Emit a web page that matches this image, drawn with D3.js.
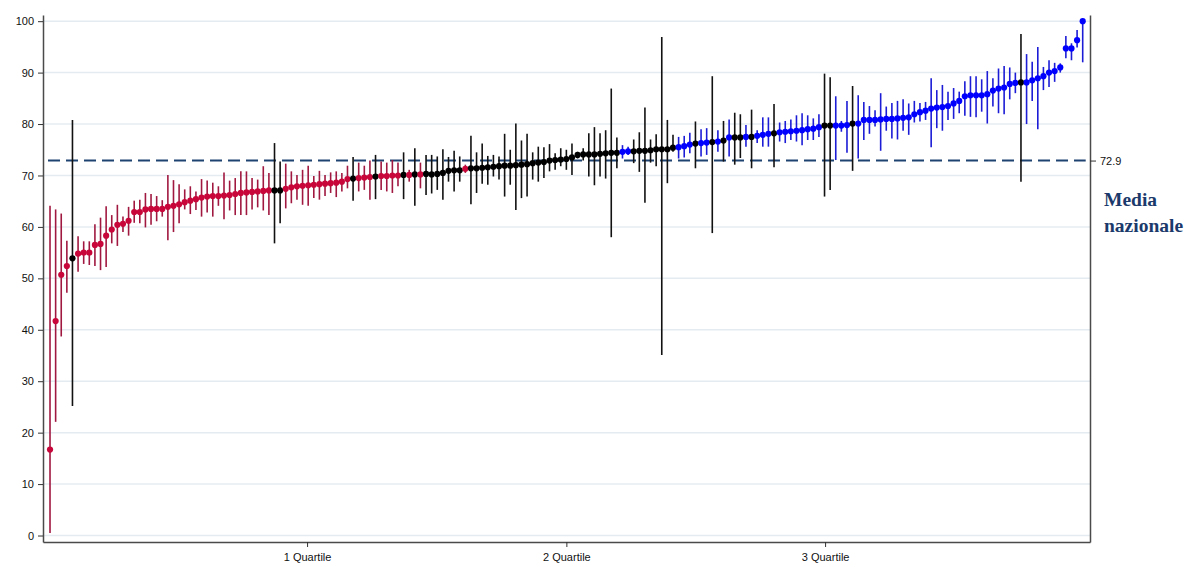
<!DOCTYPE html>
<html><head><meta charset="utf-8">
<script src="https://cdn.jsdelivr.net/npm/d3@7"></script>
<style>
html,body{margin:0;padding:0;background:#fff;}
svg{display:block;font-family:"Liberation Sans",Arial,sans-serif;}
</style></head>
<body><svg id="chart" width="1185" height="567"></svg>
<script>
// Estimate per unit (sorted)
const values = [16.7,41.7,50.7,52.4,53.9,54.8,55.0,55.0,56.5,56.7,58.3,59.5,60.4,60.6,61.2,62.9,62.9,63.4,63.5,63.5,
63.5,63.9,64.1,64.4,64.8,65.1,65.4,65.7,65.9,66.0,66.0,66.1,66.2,66.4,66.6,66.7,66.8,66.9,67.0,67.1,
67.1,67.1,67.4,67.7,67.9,68.0,68.1,68.2,68.3,68.4,68.5,68.6,68.8,69.3,69.4,69.5,69.6,69.7,69.8,69.9,
69.9,70.0,70.0,70.1,70.1,70.2,70.2,70.3,70.2,70.3,70.5,70.9,71.0,71.0,71.3,71.4,71.4,71.5,71.6,71.7,
71.8,71.9,71.9,72.0,72.1,72.2,72.4,72.5,72.6,72.9,73.0,73.1,73.2,73.5,74.0,74.1,74.1,74.1,74.2,74.3,
74.4,74.4,74.6,74.7,74.7,74.8,74.8,74.9,75.1,75.1,75.1,75.4,75.5,75.7,76.0,76.2,76.3,76.4,76.5,76.6,
76.8,77.4,77.4,77.4,77.5,77.5,77.7,77.9,78.1,78.2,78.4,78.5,78.6,78.7,78.8,79.0,79.1,79.4,79.7,79.7,
79.7,79.7,79.8,80.1,80.1,80.8,80.8,80.8,80.9,81.0,81.0,81.1,81.2,81.3,81.9,82.3,82.6,83.0,83.2,83.3,
83.5,84.0,84.5,85.4,85.6,85.6,85.6,85.8,86.5,86.9,87.1,87.8,88.0,88.1,88.1,88.5,88.9,89.3,90.0,90.3,
91.0,94.7,94.7,96.3,100.0];
const lower = [0.5,22.1,38.7,47.2,25.2,51.3,52.8,52.6,52.4,51.6,52.2,56.8,56.3,59.0,58.3,60.8,60.7,59.9,60.4,61.1,
62.0,57.4,59.0,60.7,63.4,62.5,63.3,62.0,62.8,62.0,64.1,61.5,63.2,62.3,62.3,62.3,63.4,63.8,63.2,62.3,
56.8,60.7,63.6,64.6,65.3,64.3,64.1,65.6,65.3,66.0,66.6,65.8,66.9,67.5,65.1,66.9,67.2,65.3,65.4,67.2,
66.9,66.6,67.9,65.4,68.8,64.1,67.5,66.2,66.5,67.2,65.3,68.8,66.9,68.8,70.5,64.4,66.6,68.4,68.2,69.8,
69.2,65.9,68.2,63.3,65.6,65.9,69.2,68.8,69.5,70.8,71.1,71.8,71.1,70.1,73.3,72.9,69.8,68.1,69.8,69.4,
58.0,71.4,73.3,74.0,72.4,70.7,64.7,72.5,71.8,35.1,68.5,74.6,73.3,73.5,74.3,71.4,73.7,74.0,58.8,74.6,
72.7,73.7,72.1,73.4,75.6,71.4,76.3,75.6,75.6,71.6,76.6,76.3,76.9,76.6,75.9,76.9,76.9,77.5,65.9,67.2,
73.0,78.5,74.4,70.9,73.3,76.9,78.1,79.5,74.8,78.7,77.2,77.0,78.7,77.9,80.3,80.5,80.8,75.5,79.2,78.7,
80.8,81.0,82.1,81.6,81.4,81.3,82.4,80.1,83.4,82.1,81.9,84.8,86.0,68.8,80.0,84.5,79.0,86.6,87.2,88.2,
90.0,92.8,92.4,94.9,92.0];
const upper = [64.1,63.4,62.6,57.3,80.8,58.2,57.2,57.2,60.5,61.8,64.0,62.3,64.3,62.0,63.9,65.1,65.3,66.6,66.4,66.0,
65.2,70.1,69.1,68.3,67.3,67.9,66.9,69.3,69.0,68.6,67.9,70.6,69.0,69.5,70.8,70.8,69.5,69.2,71.8,70.5,
76.3,72.7,72.3,70.8,70.1,71.1,71.9,69.9,70.9,70.1,70.6,70.8,70.5,71.9,73.6,72.5,71.9,72.9,74.0,72.7,
72.5,73.0,72.5,74.5,71.1,75.3,72.5,74.0,74.0,73.7,75.1,73.6,74.8,73.7,72.1,77.7,74.5,76.2,73.8,74.0,
73.7,78.1,75.0,80.1,76.8,78.1,74.5,75.6,75.5,76.1,74.3,75.3,75.0,76.2,74.6,75.3,78.2,79.4,78.2,78.8,
86.9,77.4,75.9,75.6,77.0,78.4,83.2,77.0,78.0,96.9,80.8,77.9,77.5,77.7,78.3,80.5,79.0,79.2,89.3,78.8,
80.6,80.9,82.2,81.9,79.8,82.8,78.8,81.3,81.3,83.9,80.3,80.6,80.9,81.7,82.1,81.7,81.1,81.9,89.8,89.1,
85.4,80.6,84.5,87.4,85.6,84.3,83.5,82.7,86.0,83.4,84.1,84.5,84.8,84.0,84.5,84.1,84.3,88.9,86.6,87.6,
86.3,87.0,86.3,88.3,89.3,89.3,88.7,90.3,88.9,90.8,91.3,91.0,90.0,97.5,93.6,92.1,95.0,91.1,92.4,91.9,
91.8,97.1,95.7,98.3,100.0];
// group: r = below, k = not different, b = above
const groups = ("rrrrkrrrrrrrrrrrrrrrrrrrrrrrrrrrrrrrrrrr" +
  "kkrrrrrrrrrrrrkrrrkrrrrkrkrkkkkkkkrkkkkk" +
  "kkkkkkkkkkkkkkkkkkkkkkbbkkkkkkkkbbbkbbkb" +
  "kbkkbkbbbkbbbbbbbbkkbbbkbbbbbbbbbbbbbbbb" +
  "bbbbbbbbbbbbbkbbbbbbbbbbb").split("");
const nationalMean = 72.9;
const quartileTicks = [46.8, 93, 139.1];
const quartileLabels = ["1 Quartile", "2 Quartile", "3 Quartile"];
const yTicks = [0,10,20,30,40,50,60,70,80,90,100];

const data = values.map((v,i)=>({k:i+1, v, lo:lower[i], hi:upper[i], g:groups[i]}));
const pointColor = {r:"#c8063a", k:"#000000", b:"#0000ff"};
const lineColor = {r:"#a01840", k:"#111111", b:"#1c1cd6"};

const svg = d3.select("#chart");
const x = d3.scaleLinear().domain([-0.25, 186.3]).range([43, 1090]);
const y = d3.scaleLinear().domain([-1.26, 101.2]).range([542, 15]);

// gridlines
svg.append("g").selectAll("line").data(yTicks).join("line")
  .attr("x1", 43).attr("x2", 1090)
  .attr("y1", d=>y(d)).attr("y2", d=>y(d))
  .attr("stroke", "#e4ecf1").attr("stroke-width", 1.5);

// national mean dashed
svg.append("line")
  .attr("x1", x(1)-2).attr("x2", x(185)+3)
  .attr("y1", y(nationalMean)).attr("y2", y(nationalMean))
  .attr("stroke", "#1f4370").attr("stroke-width", 2)
  .attr("stroke-dasharray", "12,6");

// CI lines
svg.append("g").selectAll("line").data(data).join("line")
  .attr("x1", d=>x(d.k)).attr("x2", d=>x(d.k))
  .attr("y1", d=>y(d.lo)).attr("y2", d=>y(d.hi))
  .attr("stroke", d=>lineColor[d.g]).attr("stroke-width", 1.6);

// points
svg.append("g").selectAll("circle").data(data).join("circle")
  .attr("cx", d=>x(d.k)).attr("cy", d=>y(d.v)).attr("r", 3.1)
  .attr("fill", d=>pointColor[d.g]);

// axes
const axisStyle = g => {
  g.selectAll(".domain").attr("stroke", "#4a4a4a").attr("stroke-width", 1.5);
  g.selectAll(".tick line").attr("stroke", "#333").attr("stroke-width", 1);
  g.selectAll(".tick text").attr("fill", "#111").style("font-size", "11px")
    .style("font-family", "'Liberation Sans', Arial, sans-serif");
};
svg.append("g").attr("transform", "translate(43,0)")
  .call(d3.axisLeft(y).tickValues(yTicks).tickSize(5).tickSizeOuter(0).tickPadding(4))
  .call(axisStyle);
svg.append("g").attr("transform", "translate(0,542)")
  .call(d3.axisBottom(x).tickValues(quartileTicks).tickFormat((d,i)=>quartileLabels[i])
        .tickSize(5).tickSizeOuter(0).tickPadding(6))
  .call(axisStyle);
svg.append("g").attr("transform", "translate(1090,0)")
  .call(d3.axisRight(y).tickValues([nationalMean]).tickFormat(d3.format(".1f"))
        .tickSize(6).tickSizeOuter(0).tickPadding(4))
  .call(axisStyle);

// legend text
const lab = svg.append("text").attr("x", 1104).attr("y", 206)
  .attr("fill", "#1b3a6b").style("font-family", "'Liberation Serif','Times New Roman',serif")
  .style("font-weight", "bold").style("font-size", "19.5px");
lab.append("tspan").attr("x", 1104).attr("dy", 0).text("Media");
lab.append("tspan").attr("x", 1104).attr("dy", 26).text("nazionale");
</script>
</body></html>
